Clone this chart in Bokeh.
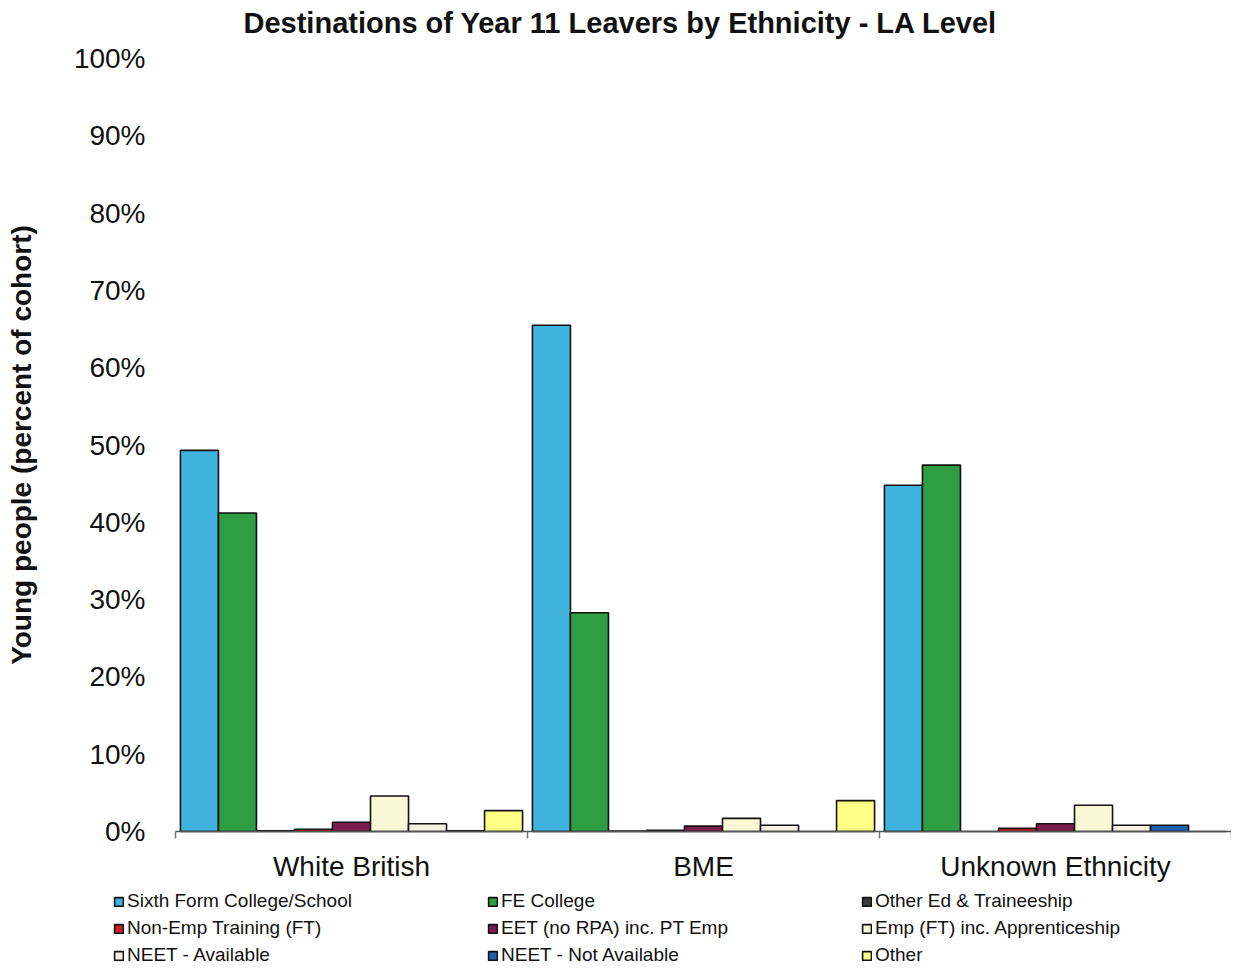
from bokeh.plotting import figure
from bokeh.models import (ColumnDataSource, Range1d, FixedTicker, PrintfTickFormatter,
                          Legend, LegendItem, Label)
from bokeh.embed import file_html
from bokeh.resources import INLINE

groups = ["White British", "BME", "Unknown Ethnicity"]

series_names = [
    "Sixth Form College/School",
    "FE College",
    "Other Ed & Traineeship",
    "Non-Emp Training (FT)",
    "EET (no RPA) inc. PT Emp",
    "Emp (FT) inc. Apprenticeship",
    "NEET - Available",
    "NEET - Not Available",
    "Other",
]

sixth_form = [49.3, 65.5, 44.8]
fe_college = [41.2, 28.3, 47.4]
other_ed = [0.1, 0.05, 0.0]
non_emp_training = [0.3, 0.15, 0.4]
eet_no_rpa = [1.2, 0.7, 1.0]
emp_ft = [4.6, 1.7, 3.4]
neet_available = [1.0, 0.8, 0.8]
neet_not_available = [0.1, 0.0, 0.8]
other = [2.7, 4.0, 0.0]

series_values = [sixth_form, fe_college, other_ed, non_emp_training, eet_no_rpa,
                 emp_ft, neet_available, neet_not_available, other]

colors = ["#3fb2de", "#2f9e40", "#3a3a3a", "#cf2028", "#7a1d4a",
          "#f9f9d6", "#f4f0e2", "#1f5faf", "#ffff86"]

y_ticks = [0, 10, 20, 30, 40, 50, 60, 70, 80, 90, 100]

TITLE = "Destinations of Year 11 Leavers by Ethnicity - LA Level"
FONT = "Liberation Sans"

W, H = 1231, 967
# frame geometry (pixels inside the figure)
PLOT_LEFT, PLOT_TOP, PLOT_BOTTOM = 175, 58, 831
px_per_pct = (PLOT_BOTTOM - PLOT_TOP) / 100.0
px_per_group = (W - PLOT_LEFT) / len(groups)

p = figure(width=W, height=H,
           x_range=Range1d(-PLOT_LEFT / px_per_group, len(groups)),
           y_range=Range1d(-(H - PLOT_BOTTOM) / px_per_pct, 100 + PLOT_TOP / px_per_pct),
           output_backend="svg", toolbar_location=None,
           min_border=0, min_border_left=0, min_border_right=0,
           min_border_top=0, min_border_bottom=0)

bar_w = 0.108
centers = [g + 0.5 for g in range(len(groups))]
renderers = []
for i, vals in enumerate(series_values):
    off = (i - (len(series_values) - 1) / 2) * bar_w
    src = ColumnDataSource(dict(x=[c + off for c in centers], top=vals, group=groups))
    r = p.vbar(x="x", top="top", width=bar_w, bottom=0, source=src,
               fill_color=colors[i], line_color="#111111", line_width=1.6)
    renderers.append(r)

p.xgrid.visible = False
p.ygrid.visible = False
p.outline_line_color = None
p.background_fill_color = "white"
p.border_fill_color = "white"

# y axis
p.yaxis.fixed_location = 0
p.yaxis.bounds = (0, 100)
p.yaxis.ticker = FixedTicker(ticks=y_ticks)
p.yaxis.formatter = PrintfTickFormatter(format="%d%%")
p.yaxis.major_label_text_font = FONT
p.yaxis.major_label_text_font_size = "28px"
p.yaxis.major_label_text_color = "#111111"
p.yaxis.major_label_standoff = 24
p.yaxis.axis_line_color = None
p.yaxis.major_tick_line_color = None
p.yaxis.minor_tick_line_color = None
p.yaxis.axis_label = "Young people (percent of cohort)"
p.yaxis.axis_label_text_font = FONT
p.yaxis.axis_label_text_font_size = "28px"
p.yaxis.axis_label_text_font_style = "bold"
p.yaxis.axis_label_text_color = "#111111"
p.yaxis.axis_label_standoff = 34

# x axis
p.xaxis.fixed_location = 0
p.xaxis.bounds = (0, len(groups))
p.xaxis.ticker = FixedTicker(ticks=centers, minor_ticks=list(range(len(groups) + 1)))
p.xaxis.major_label_overrides = {c: g for c, g in zip(centers, groups)}
p.xaxis.major_label_text_font = FONT
p.xaxis.major_label_text_font_size = "28px"
p.xaxis.major_label_text_color = "#111111"
p.xaxis.major_label_standoff = 12
p.xaxis.major_tick_line_color = None
p.xaxis.minor_tick_line_color = "#777777"
p.xaxis.minor_tick_line_width = 1.5
p.xaxis.minor_tick_out = 7
p.xaxis.minor_tick_in = 0
p.xaxis.axis_line_color = "#555555"
p.xaxis.axis_line_width = 1.5

title = Label(x=243, y=H - 22, x_units="screen", y_units="screen", text=TITLE,
              text_font=FONT, text_font_size="29px", text_font_style="bold",
              text_color="#111111", text_align="left", text_baseline="middle")
p.add_layout(title)

items = [LegendItem(label=series_names[i], renderers=[renderers[i]]) for i in range(len(renderers))]
legend = Legend(items=items, orientation="horizontal", ncols=3, location=(113, 1),
                label_text_font=FONT, label_text_font_size="19px", label_text_color="#111111",
                glyph_width=11, glyph_height=11, label_standoff=3, label_height=20,
                label_width=355, spacing=5, padding=0, margin=0,
                background_fill_alpha=0, border_line_color=None)
p.add_layout(legend, "center")

open("out.html", "w").write(file_html(p, INLINE))
